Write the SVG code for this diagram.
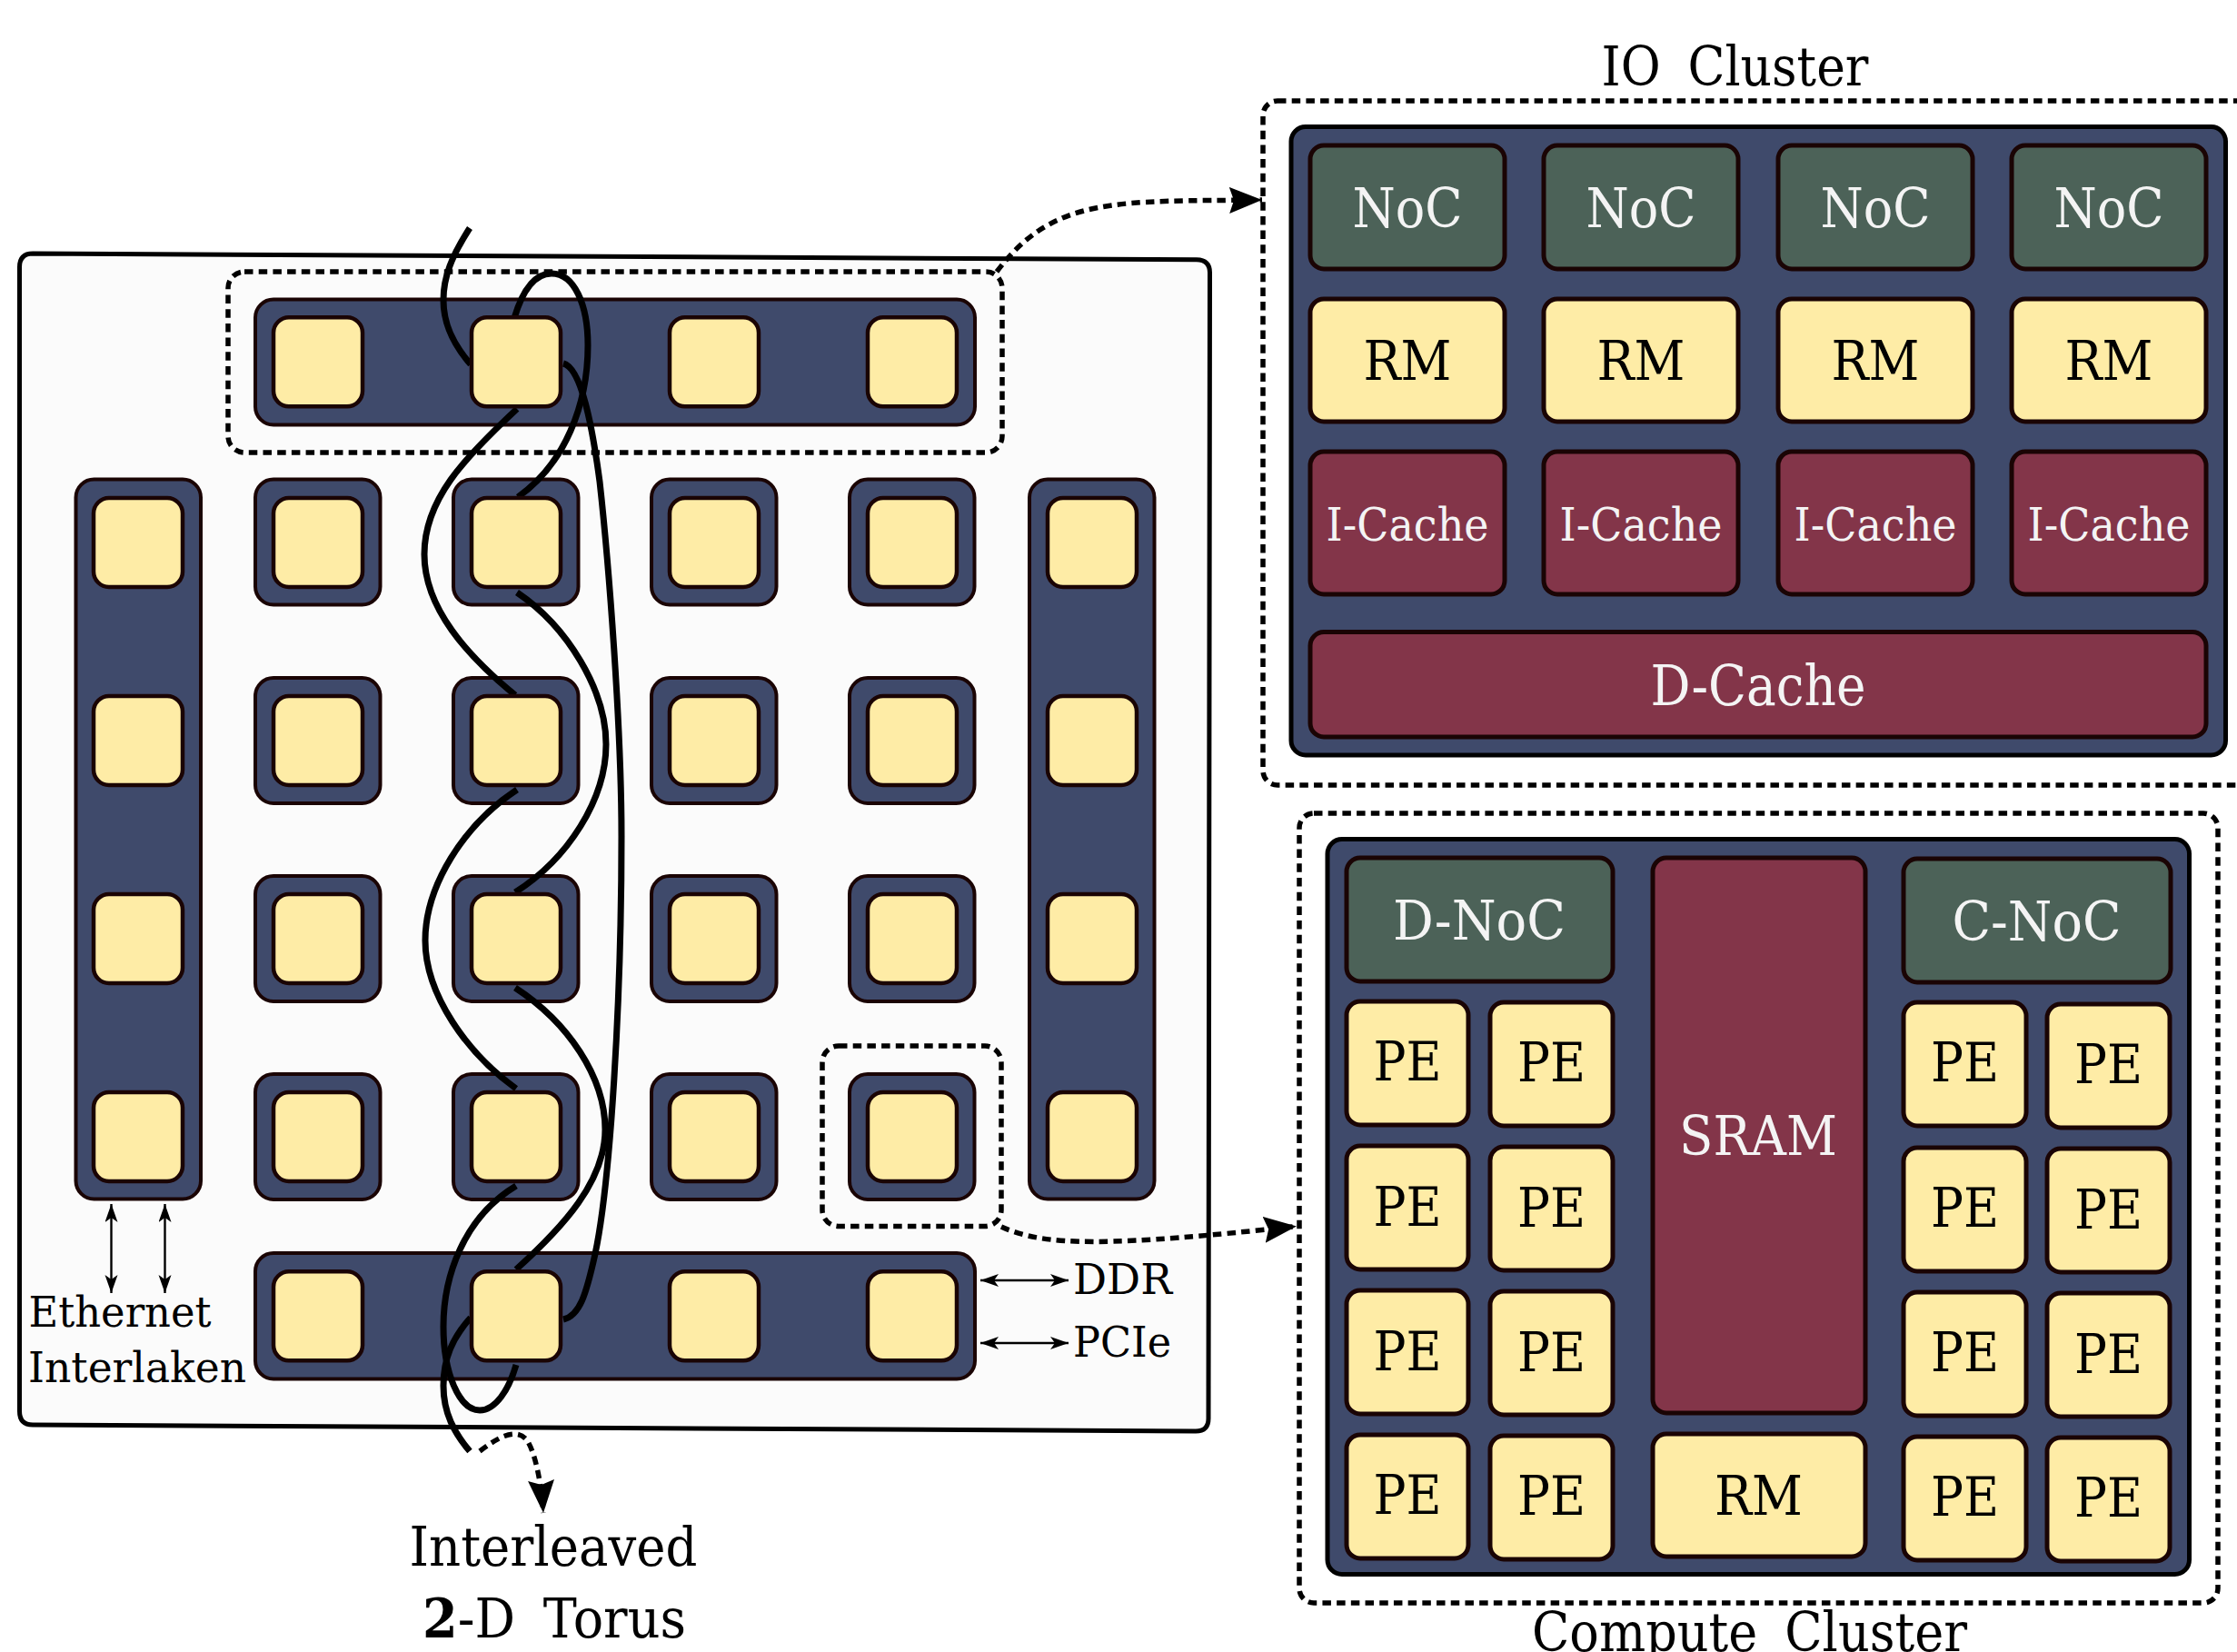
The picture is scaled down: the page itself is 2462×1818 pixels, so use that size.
<svg xmlns="http://www.w3.org/2000/svg" width="2462" height="1818" viewBox="0 0 2462 1818">
<style>
text{font-family:"DejaVu Serif","Liberation Serif",serif;text-anchor:middle;fill:#000;font-size:59px;word-spacing:14px}
.lt{fill:#f4f4f4}
.s46{font-size:47px}
.s49{font-size:50px}
.s60{font-size:61px}
.bar{fill:#3f4a6b;stroke:#1a0404;stroke-width:4}
.chip{fill:#feeca6;stroke:#1a0404;stroke-width:4.500}
.noc{fill:#4c6258;stroke:#1a0404;stroke-width:5}
.mem{fill:#833549;stroke:#1a0404;stroke-width:5}
.yel{fill:#feeca6;stroke:#1a0404;stroke-width:5}
.panel{fill:#3f4a6b;stroke:#000;stroke-width:5}
.dash{fill:none;stroke:#000;stroke-width:5.500;stroke-dasharray:9.500 6.200}
.wire{fill:none;stroke:#000;stroke-width:7}
.call{fill:none;stroke:#000;stroke-width:5.500;stroke-dasharray:9.500 6.200}
.thin{fill:none;stroke:#000;stroke-width:2.400;marker-start:url(#small);marker-end:url(#small)}
</style>
<defs>
<marker id="big" markerUnits="userSpaceOnUse" markerWidth="38" markerHeight="30" refX="36" refY="14.500" orient="auto"><path d="M0 0L36 14.500L0 29L5 14.500Z" fill="#000"/></marker>
<marker id="small" markerUnits="userSpaceOnUse" markerWidth="21" markerHeight="15" refX="20" refY="7" orient="auto-start-reverse"><path d="M0 0L20 7L0 14L5 7Z" fill="#000"/></marker>
</defs>

<rect width="2462" height="1818" fill="#fff"/>
<g id="chip-board"><path d="M36 279L1317 285.700Q1331.500 286 1331.500 300L1330 1561Q1330 1575 1316 1575L36 1568Q21.500 1568 21.500 1553L21.500 294Q21.500 279 36 279Z" fill="#fbfbfb" stroke="#000" stroke-width="5"/></g>
<g id="io-row-highlight"><rect class="dash" x="251" y="299" width="852" height="199" rx="18"/></g>
<g id="tile-highlight"><rect class="dash" x="905" y="1151" width="197" height="198.500" rx="18"/></g>

<g id="tiles">
<g id="bar-top"><rect class="bar" x="281" y="329.500" width="792" height="138" rx="20"/></g>
<g id="bar-bottom"><rect class="bar" x="281" y="1379" width="792" height="138.500" rx="20"/></g>
<g id="bar-left"><rect class="bar" x="83.500" y="527.500" width="137.500" height="792" rx="20"/></g>
<g id="bar-right"><rect class="bar" x="1133" y="527.500" width="137.500" height="792" rx="20"/></g>
<g id="tile-r1c1"><rect class="bar" x="281" y="527.500" width="137.500" height="138" rx="20"/></g>
<g id="tile-r1c2"><rect class="bar" x="499" y="527.500" width="137.500" height="138" rx="20"/></g>
<g id="tile-r1c3"><rect class="bar" x="717" y="527.500" width="137.500" height="138" rx="20"/></g>
<g id="tile-r1c4"><rect class="bar" x="935" y="527.500" width="137.500" height="138" rx="20"/></g>
<g id="tile-r2c1"><rect class="bar" x="281" y="746" width="137.500" height="138" rx="20"/></g>
<g id="tile-r2c2"><rect class="bar" x="499" y="746" width="137.500" height="138" rx="20"/></g>
<g id="tile-r2c3"><rect class="bar" x="717" y="746" width="137.500" height="138" rx="20"/></g>
<g id="tile-r2c4"><rect class="bar" x="935" y="746" width="137.500" height="138" rx="20"/></g>
<g id="tile-r3c1"><rect class="bar" x="281" y="964" width="137.500" height="138" rx="20"/></g>
<g id="tile-r3c2"><rect class="bar" x="499" y="964" width="137.500" height="138" rx="20"/></g>
<g id="tile-r3c3"><rect class="bar" x="717" y="964" width="137.500" height="138" rx="20"/></g>
<g id="tile-r3c4"><rect class="bar" x="935" y="964" width="137.500" height="138" rx="20"/></g>
<g id="tile-r4c1"><rect class="bar" x="281" y="1182" width="137.500" height="138" rx="20"/></g>
<g id="tile-r4c2"><rect class="bar" x="499" y="1182" width="137.500" height="138" rx="20"/></g>
<g id="tile-r4c3"><rect class="bar" x="717" y="1182" width="137.500" height="138" rx="20"/></g>
<g id="tile-r4c4"><rect class="bar" x="935" y="1182" width="137.500" height="138" rx="20"/></g>
</g>

<g id="connectors">
<path class="wire" d="M517 251C497 282 488 305 488 330C488 356 498 378 518 401"/>
<path class="wire" d="M566 350C575 320 588 301 607 301C632 301 647 335 647 380C647 445 622 510 570 547"/>
<path class="wire" d="M620 400C640 405 652 470 660 530C670 620 684 800 684 920C684 1100 672 1300 655 1380C645 1425 638 1448 620 1452"/>
<path class="wire" d="M569 450C510 505 467 550 467 610C467 670 515 722 567 765"/>
<path class="wire" d="M569 652C625 690 667 760 667 819C667 880 625 945 567 982"/>
<path class="wire" d="M569 869C510 908 468 975 468 1035C468 1095 515 1160 568 1198"/>
<path class="wire" d="M567 1087C625 1125 666 1185 666 1243C666 1300 620 1350 568 1397"/>
<path class="wire" d="M568 1305C510 1340 488 1405 488 1460C488 1510 505 1552 528 1552C545 1552 560 1530 568 1502"/>
<path class="wire" d="M518 1450C498 1472 488 1495 488 1525C488 1555 500 1577 517 1597"/>
<path class="call" d="M1097 299C1160 215 1230 222 1389 220" marker-end="url(#big)"/>
<path class="call" d="M1102 1350C1150 1372 1220 1372 1427 1349.500" marker-end="url(#big)"/>
<path class="call" d="M528 1597C548 1582 568 1570 580 1585C590 1600 596 1636 598 1665" marker-end="url(#big)"/>
<line class="thin" x1="122.500" y1="1325" x2="122.500" y2="1423"/>
<line class="thin" x1="181.500" y1="1325" x2="181.500" y2="1423"/>
<line class="thin" x1="1079" y1="1409" x2="1176" y2="1409"/>
<line class="thin" x1="1079" y1="1478" x2="1176" y2="1478"/>
</g>

<g id="chips">
<g id="chip-t1"><rect class="chip" x="301" y="349.300" width="98" height="98" rx="17"/></g>
<g id="chip-t2"><rect class="chip" x="519" y="349.300" width="98" height="98" rx="17"/></g>
<g id="chip-t3"><rect class="chip" x="737" y="349.300" width="98" height="98" rx="17"/></g>
<g id="chip-t4"><rect class="chip" x="955" y="349.300" width="98" height="98" rx="17"/></g>
<g id="chip-b1"><rect class="chip" x="301" y="1399.300" width="98" height="98" rx="17"/></g>
<g id="chip-b2"><rect class="chip" x="519" y="1399.300" width="98" height="98" rx="17"/></g>
<g id="chip-b3"><rect class="chip" x="737" y="1399.300" width="98" height="98" rx="17"/></g>
<g id="chip-b4"><rect class="chip" x="955" y="1399.300" width="98" height="98" rx="17"/></g>
<g id="chip-l1"><rect class="chip" x="103" y="548" width="98" height="98" rx="17"/></g>
<g id="chip-l2"><rect class="chip" x="103" y="766" width="98" height="98" rx="17"/></g>
<g id="chip-l3"><rect class="chip" x="103" y="984" width="98" height="98" rx="17"/></g>
<g id="chip-l4"><rect class="chip" x="103" y="1202" width="98" height="98" rx="17"/></g>
<g id="chip-r1"><rect class="chip" x="1153" y="548" width="98" height="98" rx="17"/></g>
<g id="chip-r2"><rect class="chip" x="1153" y="766" width="98" height="98" rx="17"/></g>
<g id="chip-r3"><rect class="chip" x="1153" y="984" width="98" height="98" rx="17"/></g>
<g id="chip-r4"><rect class="chip" x="1153" y="1202" width="98" height="98" rx="17"/></g>
<g id="chip-11"><rect class="chip" x="301" y="548" width="98" height="98" rx="17"/></g>
<g id="chip-12"><rect class="chip" x="519" y="548" width="98" height="98" rx="17"/></g>
<g id="chip-13"><rect class="chip" x="737" y="548" width="98" height="98" rx="17"/></g>
<g id="chip-14"><rect class="chip" x="955" y="548" width="98" height="98" rx="17"/></g>
<g id="chip-21"><rect class="chip" x="301" y="766" width="98" height="98" rx="17"/></g>
<g id="chip-22"><rect class="chip" x="519" y="766" width="98" height="98" rx="17"/></g>
<g id="chip-23"><rect class="chip" x="737" y="766" width="98" height="98" rx="17"/></g>
<g id="chip-24"><rect class="chip" x="955" y="766" width="98" height="98" rx="17"/></g>
<g id="chip-31"><rect class="chip" x="301" y="984" width="98" height="98" rx="17"/></g>
<g id="chip-32"><rect class="chip" x="519" y="984" width="98" height="98" rx="17"/></g>
<g id="chip-33"><rect class="chip" x="737" y="984" width="98" height="98" rx="17"/></g>
<g id="chip-34"><rect class="chip" x="955" y="984" width="98" height="98" rx="17"/></g>
<g id="chip-41"><rect class="chip" x="301" y="1202" width="98" height="98" rx="17"/></g>
<g id="chip-42"><rect class="chip" x="519" y="1202" width="98" height="98" rx="17"/></g>
<g id="chip-43"><rect class="chip" x="737" y="1202" width="98" height="98" rx="17"/></g>
<g id="chip-44"><rect class="chip" x="955" y="1202" width="98" height="98" rx="17"/></g>
</g>

<g id="labels-left">
<text class="s46" x="132" y="1460" textLength="201" lengthAdjust="spacingAndGlyphs">Ethernet</text>
<text class="s46" x="151" y="1521" textLength="240" lengthAdjust="spacingAndGlyphs">Interlaken</text>
<text class="s46" x="1235.500" y="1424" textLength="109" lengthAdjust="spacingAndGlyphs">DDR</text>
<text class="s46" x="1235" y="1493" textLength="108" lengthAdjust="spacingAndGlyphs">PCIe</text>
<text x="609" y="1722.500" textLength="317" lengthAdjust="spacingAndGlyphs">Interleaved</text>
<text x="610" y="1802" textLength="290" lengthAdjust="spacingAndGlyphs"><tspan font-weight="bold">2</tspan>-D Torus</text>
</g>

<g id="io-cluster">
<text x="1909.500" y="94" textLength="294" lengthAdjust="spacingAndGlyphs">IO Cluster</text>
<rect class="dash" x="1390" y="111" width="1100" height="753" rx="16"/>
<rect class="panel" x="1421" y="139.500" width="1028.500" height="691.500" rx="16"/>
<g id="io-noc-1"><rect class="noc" x="1442" y="160" width="214" height="136" rx="15"/><text class="lt" x="1549" y="250" textLength="121" lengthAdjust="spacingAndGlyphs">NoC</text></g>
<g id="io-noc-2"><rect class="noc" x="1699" y="160" width="214" height="136" rx="15"/><text class="lt" x="1806" y="250" textLength="121" lengthAdjust="spacingAndGlyphs">NoC</text></g>
<g id="io-noc-3"><rect class="noc" x="1957" y="160" width="214" height="136" rx="15"/><text class="lt" x="2064" y="250" textLength="121" lengthAdjust="spacingAndGlyphs">NoC</text></g>
<g id="io-noc-4"><rect class="noc" x="2214" y="160" width="214" height="136" rx="15"/><text class="lt" x="2321" y="250" textLength="121" lengthAdjust="spacingAndGlyphs">NoC</text></g>
<g id="io-rm-1"><rect class="yel" x="1442" y="329" width="214" height="135" rx="15"/><text x="1549" y="418" textLength="97" lengthAdjust="spacingAndGlyphs">RM</text></g>
<g id="io-rm-2"><rect class="yel" x="1699" y="329" width="214" height="135" rx="15"/><text x="1806" y="418" textLength="97" lengthAdjust="spacingAndGlyphs">RM</text></g>
<g id="io-rm-3"><rect class="yel" x="1957" y="329" width="214" height="135" rx="15"/><text x="2064" y="418" textLength="97" lengthAdjust="spacingAndGlyphs">RM</text></g>
<g id="io-rm-4"><rect class="yel" x="2214" y="329" width="214" height="135" rx="15"/><text x="2321" y="418" textLength="97" lengthAdjust="spacingAndGlyphs">RM</text></g>
<g id="io-icache-1"><rect class="mem" x="1442" y="497" width="214" height="157" rx="15"/><text class="lt s49" x="1549" y="595" textLength="179" lengthAdjust="spacingAndGlyphs">I-Cache</text></g>
<g id="io-icache-2"><rect class="mem" x="1699" y="497" width="214" height="157" rx="15"/><text class="lt s49" x="1806" y="595" textLength="179" lengthAdjust="spacingAndGlyphs">I-Cache</text></g>
<g id="io-icache-3"><rect class="mem" x="1957" y="497" width="214" height="157" rx="15"/><text class="lt s49" x="2064" y="595" textLength="179" lengthAdjust="spacingAndGlyphs">I-Cache</text></g>
<g id="io-icache-4"><rect class="mem" x="2214" y="497" width="214" height="157" rx="15"/><text class="lt s49" x="2321" y="595" textLength="179" lengthAdjust="spacingAndGlyphs">I-Cache</text></g>
<g id="io-dcache"><rect class="mem" x="1442" y="695.500" width="986" height="115.500" rx="15"/><text class="lt s60" x="1935" y="776" textLength="237" lengthAdjust="spacingAndGlyphs">D-Cache</text></g>
</g>

<g id="compute-cluster">
<rect class="dash" x="1430" y="895" width="1011" height="869" rx="16"/>
<rect class="panel" x="1461" y="923.500" width="948.500" height="809" rx="16"/>
<g id="d-noc"><rect class="noc" x="1482" y="944" width="293" height="136" rx="15"/><text class="lt" x="1628" y="1034" textLength="190" lengthAdjust="spacingAndGlyphs">D-NoC</text></g>
<g id="c-noc"><rect class="noc" x="2095" y="945" width="294" height="136" rx="15"/><text class="lt" x="2241.500" y="1035" textLength="186" lengthAdjust="spacingAndGlyphs">C-NoC</text></g>
<g id="sram"><rect class="mem" x="1819" y="944" width="234" height="611" rx="15"/><text class="lt" x="1935" y="1271" textLength="174" lengthAdjust="spacingAndGlyphs">SRAM</text></g>
<g id="cc-rm"><rect class="yel" x="1819" y="1578" width="234" height="135" rx="15"/><text x="1935.500" y="1667" textLength="97" lengthAdjust="spacingAndGlyphs">RM</text></g>
<g id="pe-11"><rect class="yel" x="1482" y="1102" width="134" height="136" rx="15"/><text x="1549" y="1189" textLength="75" lengthAdjust="spacingAndGlyphs">PE</text></g>
<g id="pe-12"><rect class="yel" x="1640" y="1103" width="135" height="136" rx="15"/><text x="1707.500" y="1190" textLength="75" lengthAdjust="spacingAndGlyphs">PE</text></g>
<g id="pe-13"><rect class="yel" x="2095" y="1103" width="135" height="136" rx="15"/><text x="2162.500" y="1190" textLength="75" lengthAdjust="spacingAndGlyphs">PE</text></g>
<g id="pe-14"><rect class="yel" x="2253" y="1105" width="135" height="136" rx="15"/><text x="2320.500" y="1192" textLength="75" lengthAdjust="spacingAndGlyphs">PE</text></g>
<g id="pe-21"><rect class="yel" x="1482" y="1261" width="134" height="136" rx="15"/><text x="1549" y="1349" textLength="75" lengthAdjust="spacingAndGlyphs">PE</text></g>
<g id="pe-22"><rect class="yel" x="1640" y="1262" width="135" height="136" rx="15"/><text x="1707.500" y="1350" textLength="75" lengthAdjust="spacingAndGlyphs">PE</text></g>
<g id="pe-23"><rect class="yel" x="2095" y="1263" width="135" height="136" rx="15"/><text x="2162.500" y="1350" textLength="75" lengthAdjust="spacingAndGlyphs">PE</text></g>
<g id="pe-24"><rect class="yel" x="2253" y="1264" width="135" height="136" rx="15"/><text x="2320.500" y="1352" textLength="75" lengthAdjust="spacingAndGlyphs">PE</text></g>
<g id="pe-31"><rect class="yel" x="1482" y="1420" width="134" height="136" rx="15"/><text x="1549" y="1508" textLength="75" lengthAdjust="spacingAndGlyphs">PE</text></g>
<g id="pe-32"><rect class="yel" x="1640" y="1421" width="135" height="136" rx="15"/><text x="1707.500" y="1509" textLength="75" lengthAdjust="spacingAndGlyphs">PE</text></g>
<g id="pe-33"><rect class="yel" x="2095" y="1422" width="135" height="136" rx="15"/><text x="2162.500" y="1509" textLength="75" lengthAdjust="spacingAndGlyphs">PE</text></g>
<g id="pe-34"><rect class="yel" x="2253" y="1423" width="135" height="136" rx="15"/><text x="2320.500" y="1511" textLength="75" lengthAdjust="spacingAndGlyphs">PE</text></g>
<g id="pe-41"><rect class="yel" x="1482" y="1579" width="134" height="136" rx="15"/><text x="1549" y="1666" textLength="75" lengthAdjust="spacingAndGlyphs">PE</text></g>
<g id="pe-42"><rect class="yel" x="1640" y="1580" width="135" height="136" rx="15"/><text x="1707.500" y="1667" textLength="75" lengthAdjust="spacingAndGlyphs">PE</text></g>
<g id="pe-43"><rect class="yel" x="2095" y="1581" width="135" height="136" rx="15"/><text x="2162.500" y="1668" textLength="75" lengthAdjust="spacingAndGlyphs">PE</text></g>
<g id="pe-44"><rect class="yel" x="2253" y="1582" width="135" height="136" rx="15"/><text x="2320.500" y="1669" textLength="75" lengthAdjust="spacingAndGlyphs">PE</text></g>
<text x="1925.500" y="1817" textLength="479" lengthAdjust="spacingAndGlyphs">Compute Cluster</text>
</g>
</svg>
